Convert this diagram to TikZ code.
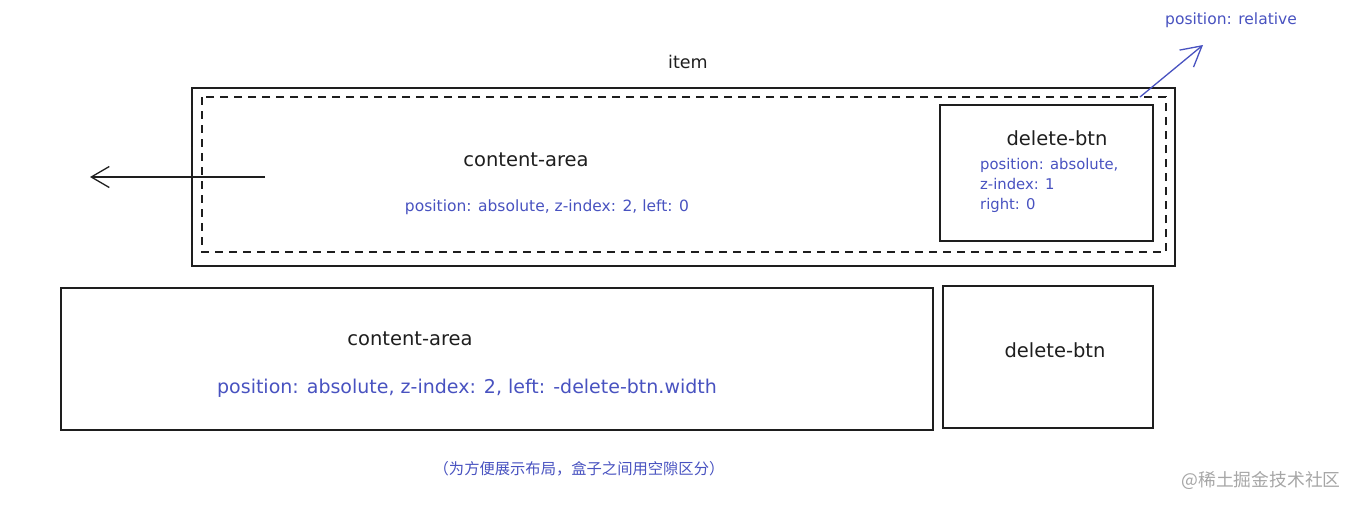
\documentclass[tikz,border=0pt]{standalone}
\usepackage{fontspec}
\setmainfont{DejaVu Sans}
\newfontfamily\cjk{Noto Sans CJK SC}
\usetikzlibrary{arrows.meta}
\definecolor{inkblue}{RGB}{72,82,192}
\definecolor{ink}{RGB}{30,30,30}
\tikzset{
  box/.style={draw=ink, line width=1.3pt},
  dashbox/.style={draw=ink, line width=1.2pt, dash pattern=on 8pt off 6pt},
  lbl/.style={font=\fontsize{19.5}{22}\selectfont, text=ink, inner sep=0pt},
  note/.style={font=\fontsize{15.5}{20}\selectfont, text=inkblue, inner sep=0pt},
  arr/.style={line width=1.3pt, -{Straight Barb[length=18pt,width=21pt]}},
}
\begin{document}
\begin{tikzpicture}[x=1pt,y=-1pt]
\useasboundingbox (0,0) rectangle (1358,507);
% item container
\draw[box] (192,88) rectangle (1175,266);
\draw[dashbox] (202,97) rectangle (1166,252);
\node[lbl, font=\fontsize{17.5}{20}\selectfont] (item) at (688,62) {item};
\coordinate (itemcorner) at (1140,97);
% top delete-btn
\draw[box] (940,105) rectangle (1153,241);
\node[lbl, font=\fontsize{19.5}{22}\selectfont] (dbtn1) at (1057,138) {delete-btn};
\node[note, font=\fontsize{14.8}{20}\selectfont, anchor=north west, align=left] (dnote) at (980,158) {position: absolute,\\z-index: 1\\right: 0};
% top content-area
\node[lbl] (ca1) at (526,160) {content-area};
\node[note] (canote1) at (547,207) {position: absolute, z-index: 2, left: 0};
\coordinate (arrstart) at (265,177);
\coordinate (arrend) at (90,177);
\draw[arr, draw=ink] (arrstart) -- (arrend);
% relative
\node[note, font=\fontsize{15.5}{20}\selectfont] (rel) at (1231,20) {position: relative};
\coordinate (relend) at (1203,45);
\draw[draw=inkblue, line width=1.3pt, -{Straight Barb[length=20pt,width=22pt]}] (itemcorner) -- (relend);
% bottom row
\draw[box] (61,288) rectangle (933,430);
\node[lbl] (ca2) at (410,339) {content-area};
\node[note, font=\fontsize{19}{22}\selectfont] (canote2) at (467,388) {position: absolute, z-index: 2, left: -delete-btn.width};
\draw[box] (943,286) rectangle (1153,428);
\node[lbl] (dbtn2) at (1055,350) {delete-btn};
% caption
\node[note, font=\cjk\fontsize{15.3}{18}\selectfont] (cap) at (579,469) {（为方便展示布局，盒子之间用空隙区分）};
\node[font=\cjk\fontsize{17.8}{20}\selectfont, text=black!35, inner sep=0pt] (wm) at (1261,480) {@稀土掘金技术社区};
\end{tikzpicture}
\end{document}
